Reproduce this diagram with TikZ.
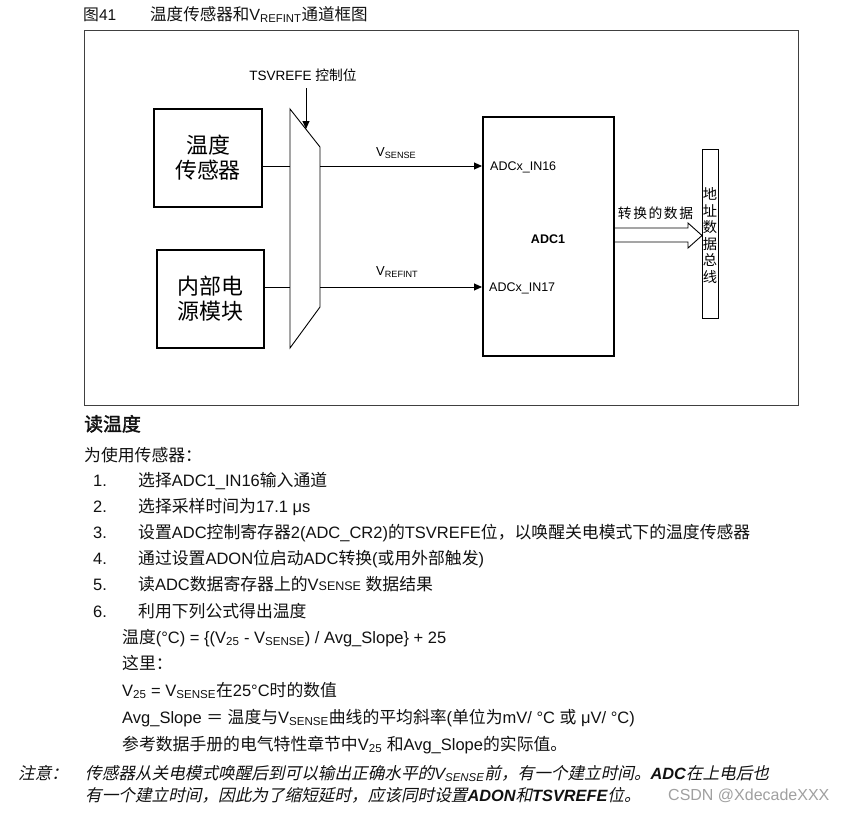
\documentclass[tikz,border=0pt]{standalone}
\usepackage{fontspec}
\setmainfont{Liberation Sans}
\newfontfamily\cjkf{Noto Sans CJK SC}[Scale=1.02, ItalicFont={Noto Sans CJK SC}, ItalicFeatures={FakeSlant=0.22}, BoldFont={Noto Sans CJK SC}, BoldFeatures={FakeBold=2}, BoldItalicFont={Noto Sans CJK SC}, BoldItalicFeatures={FakeBold=2,FakeSlant=0.22}]
\usetikzlibrary{arrows.meta}
\XeTeXinterchartokenstate=1
\newXeTeXintercharclass\cjkcls
\newcount\cjkcc
\def\cjkrange#1#2{\cjkcc=#1\relax\loop\XeTeXcharclass\cjkcc=\cjkcls\advance\cjkcc by 1\relax\ifnum\cjkcc<#2\relax\repeat}
\cjkrange{"3000}{"3040}
\cjkrange{"4E00}{"A000}
\cjkrange{"FF00}{"FFF0}
\XeTeXinterchartoks 0 \cjkcls = {\cjkf}
\XeTeXinterchartoks 4095 \cjkcls = {\cjkf}
\XeTeXinterchartoks \cjkcls 0 = {\rmfamily}
\XeTeXinterchartoks \cjkcls 4095 = {\rmfamily}
\definecolor{ink}{HTML}{111111}
\definecolor{wm}{HTML}{A0A0A0}
\begin{document}
\begin{tikzpicture}[x=1pt,y=-1pt,
  txt/.style={anchor=base west, inner sep=0pt, text=ink, font=\fontsize{16.5}{19}\selectfont},
  ntxt/.style={txt, font=\fontsize{16.3}{19}\selectfont\itshape},
  blk/.style={draw=black, line width=2pt, inner sep=0pt, align=center, font=\fontsize{21.5}{25}\selectfont},
  thin/.style={draw=black, line width=0.9pt},
  lab/.style={inner sep=0pt, text=black, font=\fontsize{12.5}{14}\selectfont},
  tip/.style={-{Triangle[length=8pt,width=7pt]}}]
\useasboundingbox (0,0) rectangle (845,812);
\fill[white] (0,0) rectangle (845,812);
% caption
\node[txt, font=\fontsize{15.5}{18}\selectfont] (fignum) at (83,20) {图41};
\node[txt, font=\fontsize{16.2}{18}\selectfont] (figttl) at (150,20) {温度传感器和V\textsubscript{REFINT}通道框图};
% frame
\draw[draw=black!75, line width=1pt] (84,30) rectangle (798,405);
% blocks
\node[blk, minimum width=108pt, minimum height=98pt] (ts) at (208,158) {温度\\传感器};
\node[blk, minimum width=107pt, minimum height=98pt] (ref) at (210.5,299) {内部电\\源模块};
\coordinate (m1) at (290,109);
\coordinate (m2) at (320,147);
\coordinate (m3) at (320,307);
\coordinate (m4) at (290,348);
\draw[thin] (m1) -- (m2) -- (m3) -- (m4) -- cycle;
\node[lab, font=\fontsize{13.5}{15}\selectfont] (tsv) at (303,75) {TSVREFE 控制位};
\coordinate (tsvtop) at (306,88);
\coordinate (tsvtip) at (306,129);
\draw[thin, tip] (tsvtop) -- (tsvtip);
\node[blk, minimum width=131pt, minimum height=239pt] (adc) at (548.5,236.5) {};
\node[lab, font=\fontsize{12.5}{14}\selectfont\bfseries] (adc1) at (548,239) {ADC1};
\node[lab, anchor=west] (in16) at (490,167) {ADCx\_IN16};
\node[lab, anchor=west] (in17) at (489,288) {ADCx\_IN17};
\coordinate (ml1) at (290,166);
\coordinate (mr1) at (320,166);
\coordinate (ml2) at (290,287);
\coordinate (mr2) at (320,287);
\draw[thin] (ts.east |- ml1) -- (ml1);
\draw[thin] (ref.east |- ml2) -- (ml2);
\draw[thin, tip] (mr1) -- (adc.west |- mr1);
\draw[thin, tip] (mr2) -- (adc.west |- mr2);
\node[lab, anchor=west, font=\fontsize{13}{15}\selectfont] (vs) at (376,153) {V\textsubscript{SENSE}};
\node[lab, anchor=west, font=\fontsize{13}{15}\selectfont] (vr) at (376,272) {V\textsubscript{REFINT}};
% data arrow
\draw[thin] (adc.east |- 0,228) -- (688,228) -- (688,223) -- (702,235.5) -- (688,248) -- (688,242) -- (adc.east |- 0,242);
\node[lab, font=\fontsize{13.5}{16}\selectfont] (conv) at (655.5,213) {转\hspace{1.6pt}换\hspace{1.6pt}的\hspace{1.6pt}数\hspace{1.6pt}据};
\node[thin, draw, minimum width=16pt, minimum height=169pt, inner sep=0pt] (bus) at (710,233.5) {};
\node[lab, align=center, font=\fontsize{14}{16.6}\selectfont] (bustxt) at (710,235.5) {地\\址\\数\\据\\总\\线};
% text
\node[txt, font=\fontsize{18.5}{20}\selectfont\bfseries] (head) at (84,431) {读温度};
\node[txt] (intro) at (84,461) {为使用传感器：};
\node[txt] (n1) at (93,486) {1.};
\node[txt] (t1) at (138,486) {选择ADC1\_IN16输入通道};
\node[txt] (n2) at (93,512) {2.};
\node[txt] (t2) at (138,512) {选择采样时间为17.1 μs};
\node[txt] (n3) at (93,538) {3.};
\node[txt] (t3) at (138,538) {设置ADC控制寄存器2(ADC\_CR2)的TSVREFE位，以唤醒关电模式下的温度传感器};
\node[txt] (n4) at (93,564) {4.};
\node[txt] (t4) at (138,564) {通过设置ADON位启动ADC转换(或用外部触发)};
\node[txt] (n5) at (93,590) {5.};
\node[txt] (t5) at (138,590) {读ADC数据寄存器上的V{\fontsize{12.5}{14}\selectfont SENSE} 数据结果};
\node[txt] (n6) at (93,617) {6.};
\node[txt] (t6) at (138,617) {利用下列公式得出温度};
\node[txt] (f1) at (122,643) {温度(°C) = \{(V\textsubscript{25} - V\textsubscript{SENSE}) / Avg\_Slope\} + 25};
\node[txt] (f2) at (122,669) {这里：};
\node[txt] (f3) at (122,696) {V\textsubscript{25} = V\textsubscript{SENSE}在25°C时的数值};
\node[txt] (f4) at (122,723) {Avg\_Slope ＝ 温度与V\textsubscript{SENSE}曲线的平均斜率(单位为mV/ °C 或 μV/ °C)};
\node[txt] (f5) at (122,750) {参考数据手册的电气特性章节中V\textsubscript{25} 和Avg\_Slope的实际值。};
\node[ntxt] (note) at (18,779) {注意：};
\node[ntxt] (nt1) at (85,779) {传感器从关电模式唤醒后到可以输出正确水平的V\textsubscript{SENSE}前，有一个建立时间。\textbf{ADC}在上电后也};
\node[ntxt] (nt2) at (85,801) {有一个建立时间，因此为了缩短延时，应该同时设置\textbf{ADON}和\textbf{TSVREFE}位。};
\node[txt, text=wm, font=\fontsize{16}{18}\selectfont] (wmk) at (668,800) {CSDN @XdecadeXXX};
\end{tikzpicture}
\end{document}
